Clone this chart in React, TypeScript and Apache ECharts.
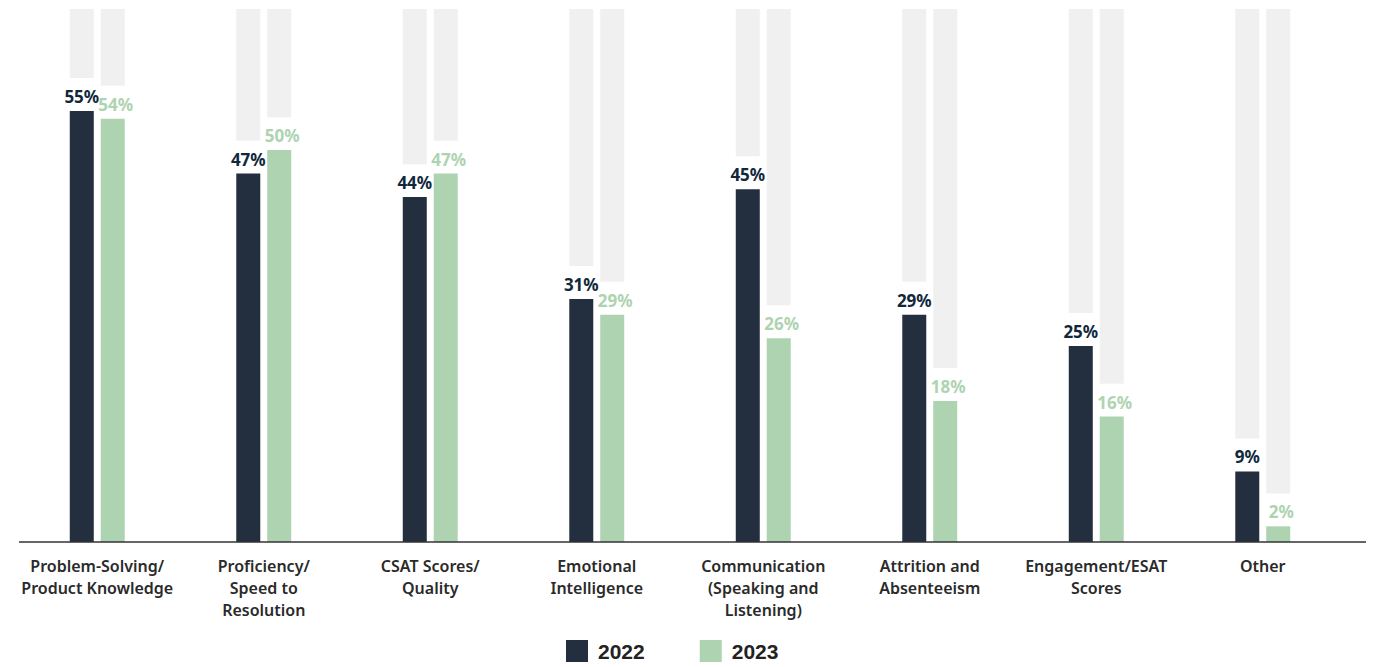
import React, { useEffect, useRef } from "react";
import * as echarts from "echarts";

const categories = [
  "Problem-Solving/\nProduct Knowledge",
  "Proficiency/\nSpeed to\nResolution",
  "CSAT Scores/\nQuality",
  "Emotional\nIntelligence",
  "Communication\n(Speaking and\nListening)",
  "Attrition and\nAbsenteeism",
  "Engagement/ESAT\nScores",
  "Other",
];
const values2022 = [55, 47, 44, 31, 45, 29, 25, 9];
const values2023 = [54, 50, 47, 29, 26, 18, 16, 2];
const seriesNames = ["2022", "2023"];

const AXIS_MAX = 68;
const LABEL_GAP = 4.2;

const DARK = "#232f3e";
const GREEN = "#aed3b1";
const GREY = "#f0f0f0";

function buildSeries(
  name: string,
  values: number[],
  color: string,
  labelColor: string,
  stack: string,
  labelOffset: number[]
) {
  const common = { type: "bar" as const, stack, barWidth: 24, barGap: "29%" };
  return [
    {
      ...common,
      name,
      data: values,
      itemStyle: { color },
      label: {
        show: true,
        position: "top",
        distance: 6,
        offset: labelOffset,
        formatter: "{c}%",
        color: labelColor,
        fontFamily: "Noto Sans",
        fontWeight: "bold",
        fontSize: 17,
      },
    },
    {
      ...common,
      name: name + "-gap",
      data: values.map(() => LABEL_GAP),
      itemStyle: { color: "rgba(0,0,0,0)" },
      silent: true,
    },
    {
      ...common,
      name: name + "-rest",
      data: values.map((v) => AXIS_MAX - v - LABEL_GAP),
      itemStyle: { color: GREY },
      silent: true,
    },
  ];
}

export default function App() {
  const ref = useRef<HTMLDivElement>(null);
  useEffect(() => {
    if (!ref.current) return;
    const chart = echarts.init(ref.current, undefined, { renderer: "svg" });
    chart.setOption({
      animation: false,
      backgroundColor: "#ffffff",
      grid: { left: 14, right: 30, top: 9, bottom: 125, containLabel: false },
      legend: {
        data: seriesNames,
        top: 640,
        left: 566,
        padding: 0,
        icon: "rect",
        itemWidth: 22,
        itemHeight: 22,
        itemGap: 55,
        textStyle: {
          fontFamily: "Liberation Sans, Arial, sans-serif",
          fontWeight: "bold",
          fontSize: 21,
          lineHeight: 22,
          color: "#222222",
          padding: [0, 0, 0, 5],
        },
      },
      xAxis: {
        type: "category",
        data: categories,
        axisLine: { show: false },
        axisTick: { show: false },
        axisLabel: {
          interval: 0,
          margin: 13,
          fontFamily: "Noto Sans",
          fontWeight: 600,
          fontSize: 16,
          lineHeight: 22,
          color: "#2a2a2a",
        },
      },
      yAxis: {
        type: "value",
        min: 0,
        max: AXIS_MAX,
        show: false,
        splitLine: { show: false },
      },
      graphic: [
        {
          type: "line",
          shape: { x1: 19, y1: 542, x2: 1366, y2: 542 },
          style: { stroke: "#333333", lineWidth: 1.5 },
          z: 10,
        },
      ],
      series: [
        ...buildSeries(seriesNames[0], values2022, DARK, "#10283c", "a", [0, 0]),
        ...buildSeries(seriesNames[1], values2023, GREEN, GREEN, "b", [3, 0]),
      ],
    });
    return () => chart.dispose();
  }, []);
  return (
    <div
      ref={ref}
      style={{ position: "fixed", left: 0, top: 0, width: 1376, height: 667 }}
    />
  );
}
